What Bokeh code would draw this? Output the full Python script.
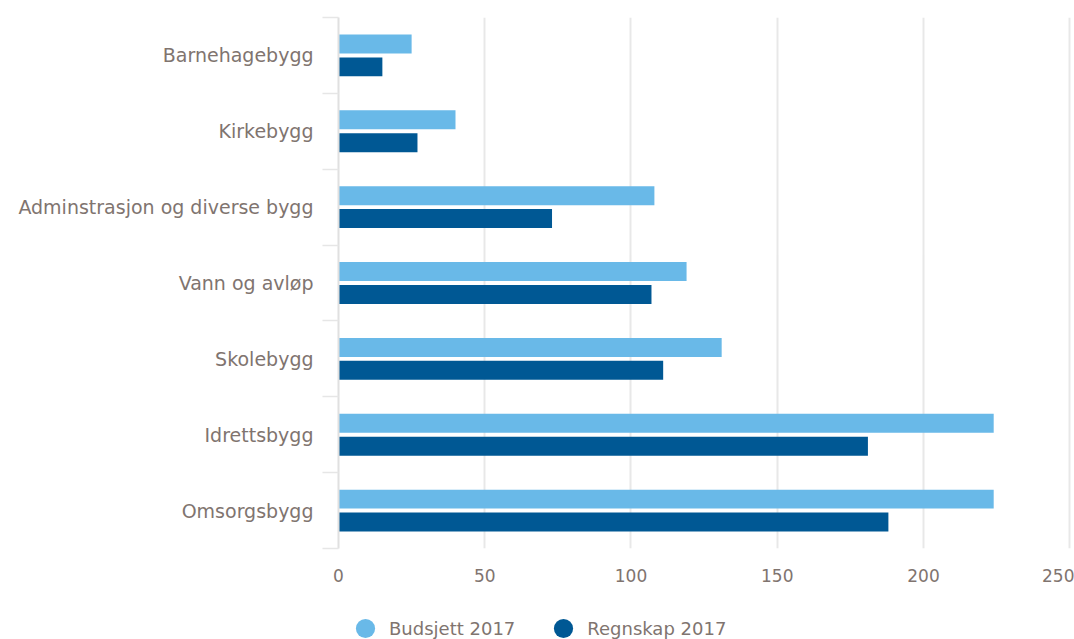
from bokeh.plotting import figure
from bokeh.layouts import column
from bokeh.models import Range1d, FixedTicker, Legend, LegendItem, ColumnDataSource
from bokeh.embed import file_html
from bokeh.resources import INLINE

categories = ["Barnehagebygg", "Kirkebygg", "Adminstrasjon og diverse bygg",
              "Vann og avløp", "Skolebygg", "Idrettsbygg", "Omsorgsbygg"]
budsjett = [25, 40, 108, 119, 131, 224, 224]
regnskap = [15, 27, 73, 107, 111, 181, 188]
x_ticks = [0, 50, 100, 150, 200, 250]
series_names = ["Budsjett 2017", "Regnskap 2017"]

LIGHT = "#69b9e8"
DARK = "#005894"
TEXT = "#80746f"
FONT = "DejaVu Sans"

n = len(categories)
centers = [i + 0.5 for i in range(n)]
off = 0.151
bar_h = 0.25

src_b = ColumnDataSource(dict(y=[c - off for c in centers], x=budsjett))
src_r = ColumnDataSource(dict(y=[c + off for c in centers], x=regnskap))

p = figure(width=1074, height=600, output_backend="svg", toolbar_location=None,
           x_range=Range1d(0, 250.6), y_range=Range1d(n, 0),
           min_border_left=338, min_border_right=3, min_border_top=17,
           min_border_bottom=52)
p.outline_line_color = None
p.background_fill_color = "white"
p.border_fill_color = "white"

rb = p.hbar(y="y", right="x", left=0, height=bar_h, source=src_b,
            fill_color=LIGHT, line_color=None)
rr = p.hbar(y="y", right="x", left=0, height=bar_h, source=src_r,
            fill_color=DARK, line_color=None)

# x axis
xa = p.xaxis[0]
xa.ticker = FixedTicker(ticks=x_ticks)
xa.axis_line_color = None
xa.major_tick_line_color = None
xa.minor_tick_line_color = None
xa.major_tick_out = 0
xa.major_tick_in = 0
xa.major_label_text_font = FONT
xa.major_label_text_font_size = "17px"
xa.major_label_text_color = TEXT
xa.major_label_standoff = 20

p.xgrid.grid_line_color = "#e8e8e8"
p.xgrid.grid_line_width = 2
p.xgrid.ticker = FixedTicker(ticks=x_ticks)
p.ygrid.grid_line_color = None

# y axis
ya = p.yaxis[0]
ya.ticker = FixedTicker(ticks=centers, minor_ticks=list(range(n + 1)))
ya.major_label_overrides = {c: name for c, name in zip(centers, categories)}
ya.major_tick_line_color = None
ya.major_tick_out = 0
ya.major_tick_in = 0
ya.minor_tick_out = 16
ya.minor_tick_in = 0
ya.minor_tick_line_color = "#e6e6e6"
ya.minor_tick_line_width = 1.5
ya.axis_line_color = "#e0e0e0"
ya.axis_line_width = 2
ya.major_label_text_font = FONT
ya.major_label_text_font_size = "19px"
ya.major_label_text_color = TEXT
ya.major_label_standoff = 9

# legend figure
lf = figure(width=1074, height=39, output_backend="svg", toolbar_location=None,
            x_range=Range1d(0, 1), y_range=Range1d(0, 1),
            min_border=0, x_axis_type=None, y_axis_type=None)
lf.outline_line_color = None
lf.xgrid.visible = False
lf.ygrid.visible = False
lb = lf.scatter(x=[-10], y=[-10], marker="circle", size=20, fill_color=LIGHT, line_color=None)
lr = lf.scatter(x=[-10], y=[-10], marker="circle", size=20, fill_color=DARK, line_color=None)

legend = Legend(items=[LegendItem(label=series_names[0], renderers=[lb]),
                       LegendItem(label=series_names[1], renderers=[lr])],
                orientation="horizontal", location=(3, -13),
                label_text_font=FONT, label_text_font_size="18px",
                label_text_color=TEXT, glyph_width=48, glyph_height=48,
                spacing=24, padding=0, margin=0, border_line_color=None,
                background_fill_alpha=0, label_standoff=-2)
lf.add_layout(legend, "center")

open("out.html", "w").write(file_html(column(p, lf, spacing=0), INLINE))
